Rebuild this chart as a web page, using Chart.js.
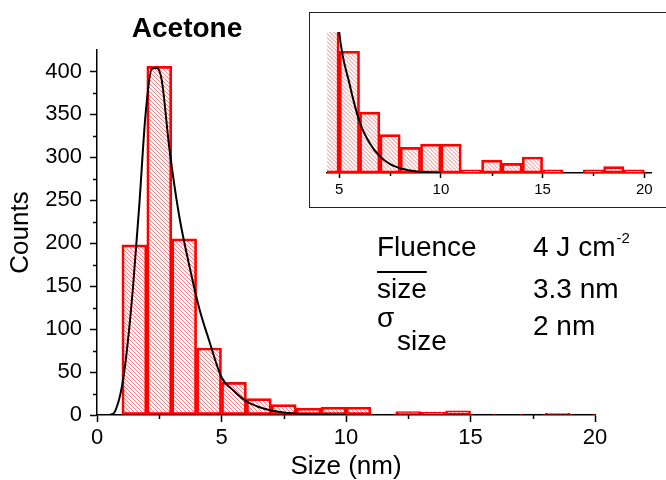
<!DOCTYPE html>
<html lang="en">
<head>
  <meta charset="UTF-8">
  <title>Acetone size distribution</title>
  <script src="https://cdn.jsdelivr.net/npm/chart.js"></script>
  <style>
    body { margin: 0; background: #fff; }
    #wrap { position: relative; width: 666px; height: 480px; background: #fff; font-family: "Liberation Sans", Arial, sans-serif; color: #000; overflow: hidden; }
    #wrap canvas { position: absolute; }
    .txt { position: absolute; font-size: 28px; line-height: 28px; white-space: nowrap; }
    #insetBox { position: absolute; left: 309px; top: 12px; width: 370px; height: 196px; box-sizing: border-box; border: 1.5px solid #222; background: #fff; }
  </style>
</head>
<body>
  <div id="wrap">
    <canvas id="mainChart" width="666" height="480" style="left:0;top:0"></canvas>
    <div class="txt" style="left:87px;top:14px;width:200px;text-align:center;font-weight:bold;">Acetone</div>
    <div class="txt" style="left:377px;top:233px;">Fluence</div>
    <div class="txt" style="left:533px;top:233px;">4 J cm<span style="position:relative;top:-13px;font-size:15px;margin-left:1px;">-2</span></div>
    <div class="txt" style="left:377px;top:275px;text-decoration:overline;text-decoration-thickness:1.5px;">size</div>
    <div class="txt" style="left:533px;top:275px;">3.3 nm</div>
    <div class="txt" style="left:377px;top:304px;">&sigma;</div>
    <div class="txt" style="left:397px;top:327px;">size</div>
    <div class="txt" style="left:533px;top:312px;">2 nm</div>
    <div id="insetBox"></div>
    <canvas id="insetChart" width="357" height="194" style="left:310px;top:13px"></canvas>
  </div>

  <script>
    // histogram bins (left edge of each 1 nm bin) and counts
    const binLeft = [1, 2, 3, 4, 5, 6, 7, 8, 9, 10, 11, 12, 13, 14, 15, 16, 17, 18, 19];
    const counts = [198, 406, 205, 78, 38, 19, 12, 8, 9, 9, 1, 4, 3, 5, 1, 0, 1, 2, 1];

    // fitted curve
    const fitX = [0.45, 0.55, 0.72, 1.0, 1.2, 1.45, 1.7, 1.95, 2.2, 2.4, 2.6, 2.9, 3.3, 3.7, 4.1, 4.5, 5.0, 5.5, 6.0, 6.5, 7.0, 7.5, 8.3, 9.2, 10];
    const fitY = [0, 0.5, 4, 33, 75, 150, 245, 350, 403, 404, 390, 312, 232, 175, 125, 87, 44, 28, 16, 9.3, 5.2, 2.8, 1.0, 0.2, 0];

    const xTicks = [0, 5, 10, 15, 20];
    const xMinor = [2.5, 7.5, 12.5, 17.5];
    const yTicks = [0, 50, 100, 150, 200, 250, 300, 350, 400];
    const yMinor = [25, 75, 125, 175, 225, 275, 325, 375];
    const insetTicks = [5, 10, 15, 20];
    const insetMinor = [7.5, 12.5, 17.5];

    const FONT = '"Liberation Sans", Arial, sans-serif';

    // diagonal hatching inside each bar, drawn before the bars' outlines
    const hatchBars = {
      id: 'hatchBars',
      beforeDatasetDraw(chart, args) {
        if (args.meta.type !== 'bar') return;
        const ctx = chart.ctx;
        const area = chart.chartArea;
        ctx.save();
        ctx.beginPath();
        ctx.rect(area.left, area.top, area.right - area.left, area.bottom - area.top);
        ctx.clip();
        ctx.strokeStyle = 'rgba(255,40,40,0.6)';
        ctx.lineWidth = 1;
        args.meta.data.forEach(bar => {
          const p = bar.getProps(['x', 'y', 'base', 'width'], true);
          const l = p.x - p.width / 2, r = p.x + p.width / 2;
          const t = Math.min(p.y, p.base), b = Math.max(p.y, p.base);
          if (b - t < 1) return;
          ctx.save();
          ctx.beginPath();
          ctx.rect(l, t, r - l, b - t);
          ctx.clip();
          ctx.beginPath();
          const h = b - t;
          for (let s = Math.floor(l / 4) * 4 - h - 4; s < r + 4; s += 4) {
            ctx.moveTo(s + 0.5, t);
            ctx.lineTo(s + 0.5 + h, b);
          }
          ctx.stroke();
          ctx.restore();
        });
        ctx.restore();
      }
    };

    const minorTicks = {
      id: 'minorTicks',
      afterDraw(chart, args, opts) {
        const ctx = chart.ctx;
        ctx.save();
        ctx.strokeStyle = '#000';
        ctx.lineWidth = 1.5;
        const sx = chart.scales.x, sy = chart.scales.y;
        (opts.x || []).forEach(v => {
          const px = Math.round(sx.getPixelForValue(v)) + 0.5;
          ctx.beginPath(); ctx.moveTo(px, sx.top); ctx.lineTo(px, sx.top + opts.len); ctx.stroke();
        });
        (opts.y || []).forEach(v => {
          const py = Math.round(sy.getPixelForValue(v)) + 0.5;
          ctx.beginPath(); ctx.moveTo(sy.right, py); ctx.lineTo(sy.right - opts.len, py); ctx.stroke();
        });
        ctx.restore();
      }
    };

    function makeDatasets() {
      return [
        {
          type: 'line',
          data: fitX.map((x, i) => ({ x: x, y: fitY[i] })),
          borderColor: '#000',
          borderWidth: 2,
          pointRadius: 0,
          cubicInterpolationMode: 'monotone',
          order: 0
        },
        {
          type: 'bar',
          data: binLeft.map((x, i) => ({ x: x + 0.5, y: counts[i] })),
          backgroundColor: 'rgba(0,0,0,0)',
          borderColor: '#ff0000',
          borderWidth: 2,
          borderSkipped: false,
          barPercentage: 1,
          categoryPercentage: 1,
          order: 1
        }
      ];
    }

    const setTicks = arr => scale => { scale.ticks = arr.map(v => ({ value: v })); };

    new Chart(document.getElementById('mainChart'), {
      type: 'bar',
      data: { datasets: makeDatasets() },
      options: {
        responsive: false,
        animation: false,
        layout: { padding: { top: 50, right: 71, left: 0, bottom: 0 } },
        plugins: {
          legend: { display: false },
          tooltip: { enabled: false },
          minorTicks: { x: xMinor, y: yMinor, len: 4 }
        },
        scales: {
          x: {
            type: 'linear',
            min: 0, max: 20,
            offset: false,
            afterBuildTicks: setTicks(xTicks),
            afterFit: s => { s.height = 65; },
            grid: { offset: false, drawOnChartArea: false, tickLength: 7, tickWidth: 1.5, tickColor: '#000' },
            border: { color: '#000', width: 1.5 },
            ticks: { font: { family: FONT, size: 22 }, color: '#000', padding: 3, maxRotation: 0 },
            title: { display: true, text: 'Size (nm)', font: { family: FONT, size: 26, lineHeight: 1 }, color: '#000', padding: 0 }
          },
          y: {
            min: 0, max: 425,
            afterBuildTicks: setTicks(yTicks),
            afterFit: s => { s.width = 97; },
            grid: { drawOnChartArea: false, tickLength: 7, tickWidth: 1.5, tickColor: '#000' },
            border: { color: '#000', width: 1.5 },
            ticks: { font: { family: FONT, size: 22 }, color: '#000', padding: 8 },
            title: { display: true, text: 'Counts', font: { family: FONT, size: 26, lineHeight: 1 }, color: '#000', padding: { top: 8, bottom: 0 } }
          }
        }
      },
      plugins: [hatchBars, minorTicks]
    });

    new Chart(document.getElementById('insetChart'), {
      type: 'bar',
      data: { datasets: makeDatasets() },
      options: {
        responsive: false,
        animation: false,
        layout: { padding: { top: 19, right: 16, left: 17, bottom: 0 } },
        plugins: {
          legend: { display: false },
          tooltip: { enabled: false },
          minorTicks: { x: insetMinor, len: 3 }
        },
        scales: {
          x: {
            type: 'linear',
            min: 4.4, max: 20.33,
            offset: false,
            afterBuildTicks: setTicks(insetTicks),
            afterFit: s => { s.height = 34; },
            grid: { offset: false, drawOnChartArea: false, tickLength: 5, tickWidth: 1.5, tickColor: '#000' },
            border: { color: '#000', width: 1.5 },
            ticks: { font: { family: FONT, size: 15 }, color: '#000', padding: 3, maxRotation: 0 }
          },
          y: {
            display: false,
            min: 0, max: 44
          }
        }
      },
      plugins: [hatchBars, minorTicks]
    });
  </script>
</body>
</html>
